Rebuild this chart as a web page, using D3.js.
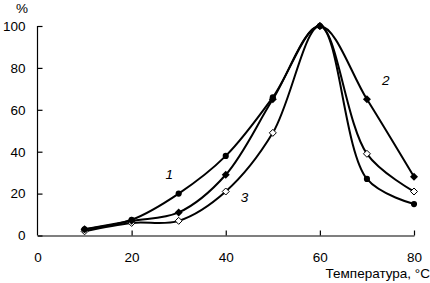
<!DOCTYPE html>
<html>
<head>
<meta charset="utf-8">
<script src="https://cdn.jsdelivr.net/npm/d3@7"></script>
<style>
body { margin: 0; background: #fff; }
svg { display: block; font-family: "Liberation Sans", Arial, sans-serif; }
.axis text { font-size: 13.5px; fill: #000; }
.axis path, .axis line { stroke: #000; stroke-width: 1.2; }
</style>
</head>
<body>
<svg width="430" height="283"></svg>
<script>
// temperatures, °C
const temps = [10, 20, 30, 40, 50, 60, 70, 80]
// relative activity, %
const curve1 = [3, 7.5, 20, 38, 66, 100, 27, 15]
const curve2 = [3, 7, 11, 29, 65, 100, 65, 28]
const curve3 = [2, 6, 7, 21, 49, 100, 39, 21]
const xTicks = [0, 20, 40, 60, 80]
const yTicks = [0, 20, 40, 60, 80, 100]

const svg = d3.select("svg")

const x = d3.scaleLinear()
	.domain([0, 80])
	.range([37.5, 414])

const y = d3.scaleLinear()
	.domain([0, 100])
	.range([235.5, 26])

// axes, ticks point inward
const yAxis = d3.axisLeft(y)
	.tickValues(yTicks)
	.tickSize(-5)
	.tickPadding(12)
	.tickSizeOuter(0)

const xAxis = d3.axisBottom(x)
	.tickValues(xTicks)
	.tickSize(-5)
	.tickPadding(17)
	.tickSizeOuter(0)

svg.append("g")
	.attr("class", "axis")
	.attr("transform", "translate(37.5,0)")
	.call(yAxis)
	.call(g => g.select(".domain").attr("d", "M0," + y(100) + "V" + y(0)))

svg.append("g")
	.attr("class", "axis")
	.attr("transform", "translate(0,235.5)")
	.call(xAxis)
	.call(g => g.selectAll(".tick line").filter(d => d == 0).remove())

svg.append("text")
	.attr("x", 22).attr("y", 13)
	.attr("font-size", 13.5)
	.attr("text-anchor", "middle")
	.text("%")

svg.append("text")
	.attr("x", 430).attr("y", 278)
	.attr("font-size", 13.5)
	.attr("text-anchor", "end")
	.text("Температура, °C")

const line = d3.line()
	.x((d, i) => x(temps[i]))
	.y(d => y(d))
	.curve(d3.curveCatmullRom.alpha(0.5))

// drawn back to front so the filled markers sit on top
const series = [
	{ vals: curve3, mark: "open" },
	{ vals: curve2, mark: "diamond" },
	{ vals: curve1, mark: "circle" }
]

series.forEach(s => {
	svg.append("path")
		.attr("d", line(s.vals))
		.attr("fill", "none")
		.attr("stroke", "#000")
		.attr("stroke-width", 2)

	const pts = svg.append("g")
		.selectAll("path")
		.data(s.vals)
		.enter()
		.append("path")
		.attr("transform", (d, i) => "translate(" + x(temps[i]) + "," + y(d) + ")")

	if (s.mark == "circle") {
		pts.attr("d", d3.symbol(d3.symbolCircle, 30))
			.attr("fill", "#000")
	} else if (s.mark == "diamond") {
		pts.attr("d", "M0,-4L4,0L0,4L-4,0Z")
			.attr("fill", "#000")
	} else {
		pts.attr("d", "M0,-3.5L3.5,0L0,3.5L-3.5,0Z")
			.attr("fill", "#fff")
			.attr("stroke", "#000")
			.attr("stroke-width", 1)
	}
})

// curve numbers
const labels = [
	{ t: "1", at: [28, 27] },
	{ t: "2", at: [74, 72] },
	{ t: "3", at: [44, 16] }
]
svg.selectAll("text.num")
	.data(labels)
	.enter()
	.append("text")
	.attr("class", "num")
	.attr("x", d => x(d.at[0]))
	.attr("y", d => y(d.at[1]))
	.attr("font-size", 13.5)
	.attr("font-style", "italic")
	.attr("text-anchor", "middle")
	.text(d => d.t)
</script>
</body>
</html>
